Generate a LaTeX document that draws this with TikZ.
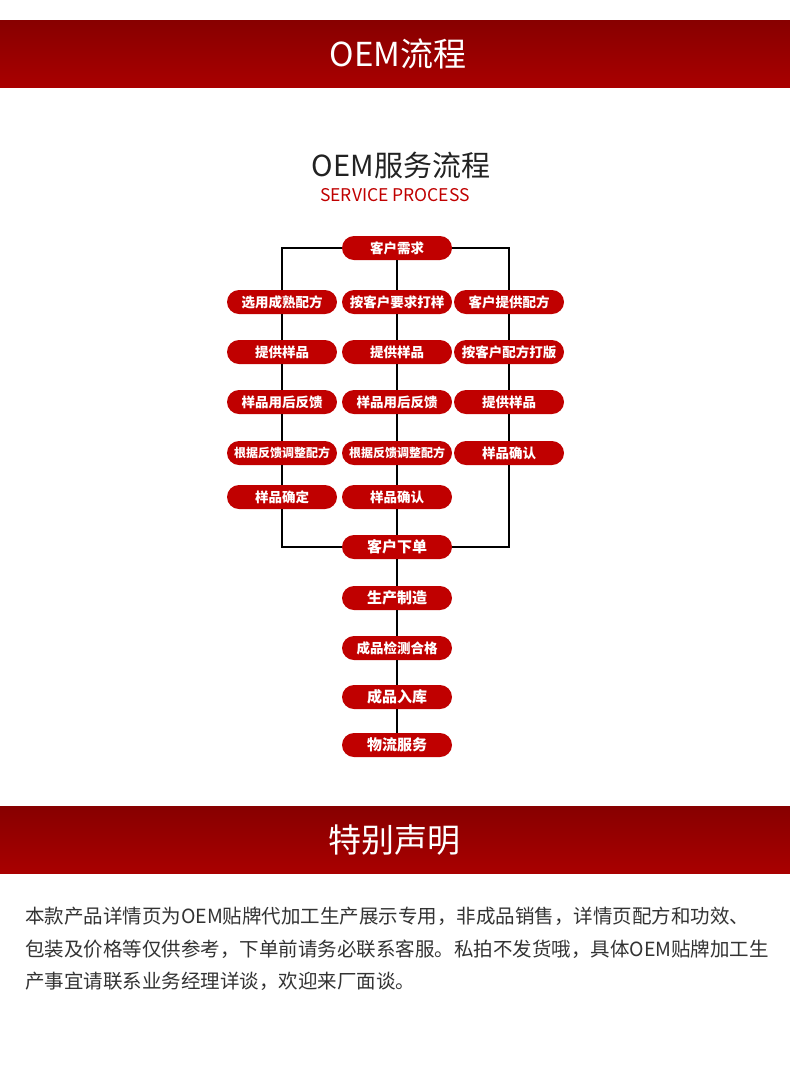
\documentclass[tikz,border=0pt]{standalone}
\usepackage{fontspec}
\setmainfont{Noto Sans CJK SC}
\usepackage{tikz}
\usetikzlibrary{positioning}
\definecolor{BandTop}{HTML}{870000}
\definecolor{BandBot}{HTML}{A90000}
\definecolor{PillRed}{HTML}{C00000}
\definecolor{Ink}{HTML}{222222}
\definecolor{Body}{HTML}{333333}

\tikzset{
  pill/.style={fill=PillRed,text=white,rounded corners=12pt,minimum width=110pt,
    minimum height=24pt,inner sep=0pt,font=\bfseries\fontsize{13.5}{14}\selectfont},
  pillbig/.style={pill,font=\bfseries\fontsize{15}{16}\selectfont},
  pillsmall/.style={pill,font=\bfseries\fontsize{12}{13}\selectfont},
  link/.style={line width=2pt,black},
  band/.style={top color=BandTop,bottom color=BandBot,draw=none},
  bodyline/.style={anchor=west,inner sep=0pt,text=Body,font=\fontsize{19.5}{20}\selectfont}
}

\begin{document}
\begin{tikzpicture}[x=1pt,y=-1pt]
      \useasboundingbox[fill=white] (0,0) rectangle (790,1077);
      \shade[band] (0,20) rectangle (790,87);
      \node[text=white,font=\fontsize{33}{34}\selectfont] (title) at (398,54) {OEM流程};
      \node[text=Ink,font=\fontsize{29}{30}\selectfont] (head) at (401,165) {OEM服务流程};
      \node[text=PillRed,font=\fontsize{17.5}{18}\selectfont] (sub) at (395,195) {SERVICE PROCESS};

      \node[pill] (need) at (397,248) {客户需求};
      \node[pill] (l1) at (282,302) {选用成熟配方};
      \node[pill] (m1) at (397,302) {按客户要求打样};
      \node[pill] (r1) at (509,302) {客户提供配方};
      \node[pill] (l2) at (282,352) {提供样品};
      \node[pill] (m2) at (397,352) {提供样品};
      \node[pill] (r2) at (509,352) {按客户配方打版};
      \node[pill] (l3) at (282,402) {样品用后反馈};
      \node[pill] (m3) at (397,402) {样品用后反馈};
      \node[pill] (r3) at (509,402) {提供样品};
      \node[pillsmall] (l4) at (282,453) {根据反馈调整配方};
      \node[pillsmall] (m4) at (397,453) {根据反馈调整配方};
      \node[pill] (r4) at (509,453) {样品确认};
      \node[pill] (l5) at (282,497) {样品确定};
      \node[pill] (m5) at (397,497) {样品确认};
      \node[pillbig] (order) at (397,547) {客户下单};
      \node[pillbig] (make) at (397,598) {生产制造};
      \node[pill] (check) at (397,648) {成品检测合格};
      \node[pillbig] (store) at (397,697) {成品入库};
      \node[pillbig] (ship) at (397,745) {物流服务};

      \draw[link] (need) -| (l1);
      \draw[link] (need) -| (r1);
      \draw[link] (need) -- (m1);
      \foreach \c in {l,m,r}{
        \draw[link] (\c1) -- (\c2);
        \draw[link] (\c2) -- (\c3);
        \draw[link] (\c3) -- (\c4);
      }
      \draw[link] (l4) -- (l5);
      \draw[link] (m4) -- (m5);
      \draw[link] (l5) |- (order);
      \draw[link] (r4) |- (order);
      \draw[link] (m5) -- (order);
      \draw[link] (order) -- (make);
      \draw[link] (make) -- (check);
      \draw[link] (check) -- (store);
      \draw[link] (store) -- (ship);

      \shade[band] (0,806) rectangle (790,873);
      \node[text=white,font=\fontsize{33}{34}\selectfont] (note) at (394,840) {特别声明};
      \node[bodyline] (txt1) at (25,916) {本款产品详情页为OEM贴牌代加工生产展示专用，非成品销售，详情页配方和功效、};
      \node[bodyline] (txt2) at (25,949) {包装及价格等仅供参考，下单前请务必联系客服。私拍不发货哦，具体OEM贴牌加工生};
      \node[bodyline] (txt3) at (25,981) {产事宜请联系业务经理详谈，欢迎来厂面谈。};
    \end{tikzpicture}
\end{document}
